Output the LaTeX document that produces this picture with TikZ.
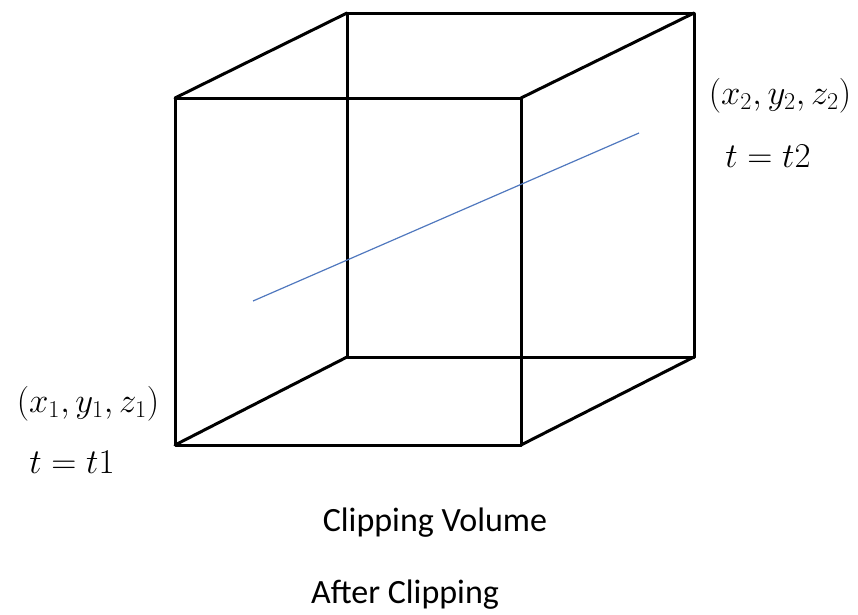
\documentclass[tikz,border=0pt]{standalone}
\usepackage{graphicx}
\usepackage{fontspec}
\setmainfont{Carlito}
\usepackage{tikz}
\usetikzlibrary{positioning,calc}
\definecolor{segblue}{RGB}{80,120,190}
\newcommand{\bigmath}[1]{\scalebox{1.4}{$#1$}}

\begin{document}
\begin{tikzpicture}[
  x=1pt, y=-1pt,
  edge/.style={draw, line width=3pt, line join=round, line cap=round},
  seg/.style={draw=segblue, line width=1.2pt},
  mathlbl/.style={inner sep=0pt, font=\fontsize{24}{30}\selectfont},
  caption/.style={inner sep=0pt, font=\fontsize{34}{40}\selectfont}
]
\useasboundingbox (0,0) rectangle (858,614);

% front face
\coordinate (ftl) at (175,98);
\coordinate (ftr) at (521,98);
\coordinate (fbl) at (175,445);
\coordinate (fbr) at (521,445);
% back face
\coordinate (btl) at (347,13);
\coordinate (btr) at (694,13);
\coordinate (bbl) at (347,357);
\coordinate (bbr) at (694,357);

\draw[edge] (ftl) -- (ftr) -- (fbr) -- (fbl) -- cycle;
\draw[edge] (btl) -- (btr) -- (bbr) -- (bbl) -- cycle;
\draw[edge] (ftl) -- (btl);
\draw[edge] (ftr) -- (btr);
\draw[edge] (fbl) -- (bbl);
\draw[edge] (fbr) -- (bbr);

% clipped segment
\coordinate (pone) at (253,301);
\coordinate (ptwo) at (639,133);
\draw[seg] (pone) -- (ptwo);

\node[mathlbl] (lblone) at (88,404)  {\bigmath{(x_1,y_1,z_1)}};
\node[mathlbl] (tone)   at (72,462)  {\bigmath{t=t1}};
\node[mathlbl] (lbltwo) at (780,96)  {\bigmath{(x_2,y_2,z_2)}};
\node[mathlbl] (ttwo)   at (768,156) {\bigmath{t=t2}};

\node[caption] (vol)   at (435,523) {Clipping Volume};
\node[caption] (after) at (405,595) {After Clipping};

\end{tikzpicture}
\end{document}
